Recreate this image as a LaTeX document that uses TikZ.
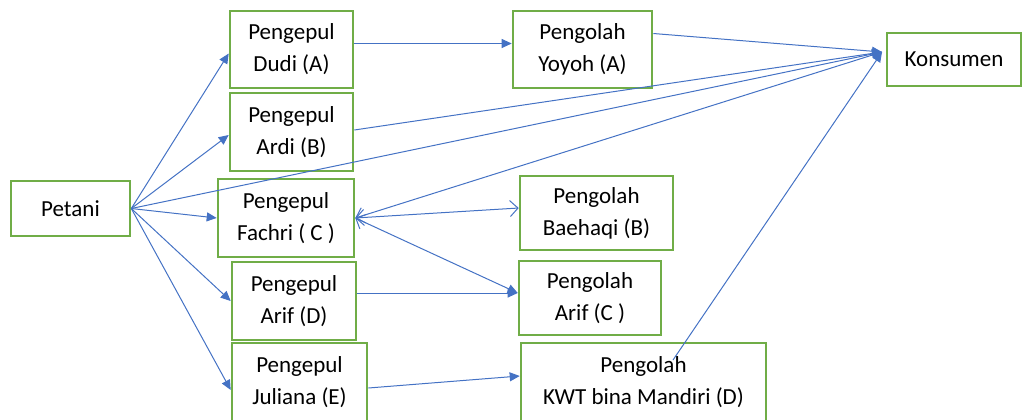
\documentclass[tikz,border=0pt]{standalone}
\usepackage{fontspec}
\setmainfont{Carlito}
\usetikzlibrary{arrows.meta,calc}
\definecolor{boxgreen}{RGB}{112,173,71}
\definecolor{linkblue}{RGB}{68,114,196}
\tikzset{
  actor/.style={rectangle, draw=boxgreen, line width=1.3pt, align=center,
                inner sep=0pt, font=\fontsize{11.5}{16}\selectfont},
  fl/.style={draw=linkblue, line width=0.5pt, -{Triangle[length=5pt,width=4.5pt]}},
  ol/.style={draw=linkblue, line width=0.5pt, -{Straight Barb[length=4pt,width=8pt]}},
  bl/.style={draw=linkblue, line width=0.5pt,
             {Straight Barb[length=4pt,width=8pt]}-{Straight Barb[length=4pt,width=8pt]}},
  ml/.style={draw=linkblue, line width=0.5pt,
             {Straight Barb[length=4pt,width=8pt]}-{Triangle[length=5pt,width=4.5pt]}},
}
\begin{document}
\begin{tikzpicture}[x=0.5pt,y=-0.5pt]
  \useasboundingbox (0,0) rectangle (1022,419);
  % producers and collectors
  \node[actor, minimum width=59.5pt, minimum height=27.5pt] (petani) at (70.5,208.5) {Petani};
  \node[actor, minimum width=61.5pt, minimum height=38.5pt] (dudi) at (291.5,49.5) {Pengepul\\Dudi (A)};
  \node[actor, minimum width=61.5pt, minimum height=39pt] (ardi) at (291.5,132) {Pengepul\\Ardi (B)};
  \node[actor, minimum width=68pt, minimum height=39pt] (fachri) at (286,218) {Pengepul\\Fachri ( C )};
  \node[actor, minimum width=62pt, minimum height=39pt] (arifd) at (294,301) {Pengepul\\Arif (D)};
  \node[actor, minimum width=67.5pt, minimum height=39pt] (juliana) at (299.5,382) {Pengepul\\Juliana (E)};
  % processors
  \node[actor, minimum width=69.5pt, minimum height=38.5pt] (yoyoh) at (582.5,49.5) {Pengolah\\Yoyoh (A)};
  \node[actor, minimum width=76.5pt, minimum height=37pt] (baehaqi) at (596.5,213) {Pengolah\\Baehaqi (B)};
  \node[actor, minimum width=71pt, minimum height=37pt] (arifc) at (590,298) {Pengolah\\Arif (C )};
  \node[actor, minimum width=122.5pt, minimum height=39pt] (kwt) at (643.5,382) {Pengolah\\KWT bina Mandiri (D)};
  \node[actor, minimum width=67pt, minimum height=26.5pt] (konsumen) at (954,59.5) {Konsumen};
  \coordinate (kin) at (882,52);
  \coordinate (kwtsrc) at (673,360);
  % links
  \draw[fl] (petani.east) -- ([yshift=-2pt]dudi.west);
  \draw[fl] (petani.east) -- ([yshift=-1.5pt]ardi.west);
  \draw[fl] (petani.east) -- (fachri.west);
  \draw[fl] (petani.east) -- (arifd.west);
  \draw[fl] (petani.east) -- ([yshift=-4pt]juliana.west);
  \draw[fl] (petani.east) -- (kin);
  \draw[fl] ([yshift=3pt]dudi.east) -- ([yshift=3pt]yoyoh.west);
  \draw[fl] ([yshift=8pt]yoyoh.east) -- (kin);
  \draw[fl] ([yshift=1pt]ardi.east) -- (kin);
  \draw[ol] (kin) -- (fachri.east);
  \draw[bl] (fachri.east) -- ([yshift=2.5pt]baehaqi.west);
  \draw[ml] (fachri.east) -- ([yshift=2.5pt]arifc.west);
  \draw[fl] ([yshift=4pt]arifd.east) -- ([yshift=2.5pt]arifc.west);
  \draw[fl] ([yshift=-3pt]juliana.east) -- ([yshift=3pt]kwt.west);
  \draw[fl] (kwtsrc) -- (kin);
\end{tikzpicture}
\end{document}
